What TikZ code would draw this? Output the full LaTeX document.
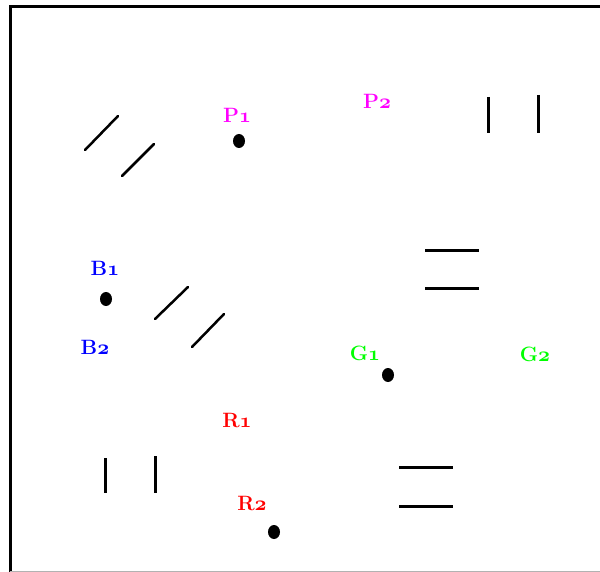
\documentclass[tikz,border=0pt]{standalone}
\usetikzlibrary{shapes.geometric}
\definecolor{cP}{RGB}{255,0,255}
\definecolor{cB}{RGB}{0,0,255}
\definecolor{cG}{RGB}{0,255,0}
\definecolor{cR}{RGB}{255,0,0}
\newcommand{\osn}[1]{{\usefont{OML}{cmm}{b}{it}#1}}
\begin{document}
\begin{tikzpicture}[x=1pt,y=-1pt,
  lbl/.style={inner sep=0pt,font=\fontsize{20.74}{22}\selectfont\bfseries},
  dot/.style={ellipse,fill=black,inner sep=0pt,minimum width=12pt,minimum height=14pt},
  bar/.style={line width=3pt,black},
  slash/.style={line width=2.5pt,black,line cap=round}]
\useasboundingbox (0,0) rectangle (600,572);
\begin{scope}
\clip (0,0) rectangle (600,572);
\draw[line width=3pt] (10,580) -- (10,6.3) -- (610,6.3);
\draw[line width=1pt,black!30] (10,571.5) -- (610,571.5);
\end{scope}
% diagonal pairs
\coordinate (d1a) at (85,150); \coordinate (d1b) at (118,116);
\coordinate (d2a) at (122,176); \coordinate (d2b) at (154,144);
\draw[slash] (d1a) -- (d1b);
\draw[slash] (d2a) -- (d2b);
\coordinate (d3a) at (155,319); \coordinate (d3b) at (188,287);
\coordinate (d4a) at (192,347); \coordinate (d4b) at (224,314);
\draw[slash] (d3a) -- (d3b);
\draw[slash] (d4a) -- (d4b);
% vertical pairs
\coordinate (v1a) at (488.5,97); \coordinate (v1b) at (488.5,133);
\coordinate (v2a) at (538.5,95); \coordinate (v2b) at (538.5,133);
\draw[bar] (v1a) -- (v1b);
\draw[bar] (v2a) -- (v2b);
\coordinate (v3a) at (105,458); \coordinate (v3b) at (105,493);
\coordinate (v4a) at (155,456); \coordinate (v4b) at (155,493);
\draw[bar] (v3a) -- (v3b);
\draw[bar] (v4a) -- (v4b);
% horizontal pairs
\coordinate (h1a) at (425,251); \coordinate (h1b) at (479,251);
\coordinate (h2a) at (425,289); \coordinate (h2b) at (479,289);
\draw[bar] (h1a) -- (h1b);
\draw[bar] (h2a) -- (h2b);
\coordinate (h3a) at (399,467); \coordinate (h3b) at (453,467);
\coordinate (h4a) at (399,506); \coordinate (h4b) at (453,506);
\draw[bar] (h3a) -- (h3b);
\draw[bar] (h4a) -- (h4b);
% dots
\node[dot] (pdot) at (239,141) {};
\node[dot] (bdot) at (106,299) {};
\node[dot] (gdot) at (388,375) {};
\node[dot] (rdot) at (274,532) {};
% labels
\node[lbl,text=cP] (P1) at (237,115) {P\osn{1}};
\node[lbl,text=cP] (P2) at (377,101) {P\osn{2}};
\node[lbl,text=cB] (B1) at (105,268) {B\osn{1}};
\node[lbl,text=cB] (B2) at (95,347) {B\osn{2}};
\node[lbl,text=cG] (G1) at (365,353) {G\osn{1}};
\node[lbl,text=cG] (G2) at (535,354) {G\osn{2}};
\node[lbl,text=cR] (R1) at (237,421) {R\osn{1}};
\node[lbl,text=cR] (R2) at (252,504) {R\osn{2}};
\end{tikzpicture}
\end{document}
